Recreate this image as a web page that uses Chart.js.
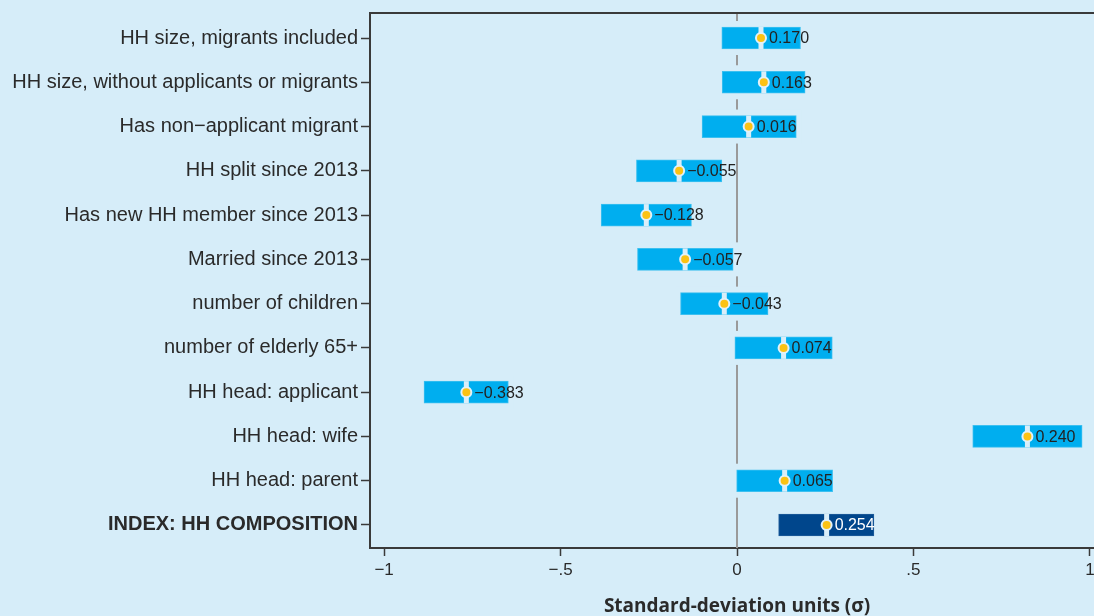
<!DOCTYPE html>
<html>
<head>
<meta charset="utf-8">
<script src="https://cdn.jsdelivr.net/npm/chart.js@4.4.1/dist/chart.umd.min.js"></script>
<style>
  html, body { margin: 0; padding: 0; background: #d6edf9; overflow: hidden; }
  #wrap { width: 1120px; height: 619px; margin-top: -3px; }
  canvas { display: block; }
</style>
</head>
<body>
<div id="wrap"><canvas id="chart" width="1120" height="619"></canvas></div>
<script>
// Household-composition outcomes, effect sizes with confidence intervals
const categories = [
  'HH size, migrants included',
  'HH size, without applicants or migrants',
  'Has non\u2212applicant migrant',
  'HH split since 2013',
  'Has new HH member since 2013',
  'Married since 2013',
  'number of children',
  'number of elderly 65+',
  'HH head: applicant',
  'HH head: wife',
  'HH head: parent',
  'INDEX: HH COMPOSITION'
];
// Confidence interval bounds, in standard-deviation units
const ciLow  = [-0.043, -0.042, -0.099, -0.285, -0.385, -0.282, -0.160, -0.006, -0.887, 0.668, -0.001, 0.118];
const ciHigh = [ 0.180,  0.193,  0.168, -0.043, -0.129, -0.011,  0.088,  0.270, -0.648, 0.978,  0.271, 0.388];
// Point estimates, in standard-deviation units
const effectSD = [0.068, 0.076, 0.033, -0.164, -0.257, -0.147, -0.036, 0.132, -0.767, 0.823, 0.135, 0.254];
// Coefficients printed beside each estimate
const coefficients = [0.170, 0.163, 0.016, -0.055, -0.128, -0.057, -0.043, 0.074, -0.383, 0.240, 0.065, 0.254];
// Horizontal axis ticks
const xTickValues = [-1, -0.5, 0, 0.5, 1];
const xTickLabels = ['\u22121', '\u2212.5', '0', '.5', '1'];

const BG = '#d6edf9';
const BAR = '#00aeef';
const BAR_INDEX = '#00468c';
const INDEX_ROW = categories.length - 1;

const fmt = v => (v < 0 ? '\u2212' : '') + Math.abs(v).toFixed(3);

const rows = categories.map((c, i) => i);

// Background, frame, zero reference line and the clearing band behind each bar
const decorations = {
  id: 'decorations',
  beforeDraw(chart) {
    const { ctx, width, height } = chart;
    ctx.save();
    ctx.fillStyle = BG;
    ctx.fillRect(0, 0, width, height);
    ctx.restore();
  },
  beforeDatasetsDraw(chart) {
    const { ctx, chartArea } = chart;
    const xs = chart.scales.x;
    const x0 = xs.getPixelForValue(0);
    ctx.save();
    ctx.strokeStyle = '#9a9a9a';
    ctx.lineWidth = 2;
    ctx.beginPath();
    ctx.moveTo(x0, chartArea.top);
    ctx.lineTo(x0, chartArea.bottom);
    ctx.stroke();
    // top frame line
    ctx.strokeStyle = '#3a3a3a';
    ctx.beginPath();
    ctx.moveTo(chartArea.left, chartArea.top);
    ctx.lineTo(chartArea.right, chartArea.top);
    ctx.stroke();
    // clear band around each interval bar
    const meta = chart.getDatasetMeta(0);
    ctx.fillStyle = BG;
    meta.data.forEach(bar => {
      const p = bar.getProps(['x', 'base', 'y', 'height'], true);
      const l = Math.min(p.x, p.base) - 5;
      const r = Math.max(p.x, p.base) + 5;
      ctx.fillRect(l, p.y - p.height / 2 - 6, r - l, p.height + 12);
    });
    ctx.restore();
  },
  afterDatasetsDraw(chart) {
    const { ctx } = chart;
    const meta = chart.getDatasetMeta(2);
    ctx.save();
    ctx.font = '16px "Liberation Sans", Arial, sans-serif';
    ctx.textBaseline = 'middle';
    ctx.textAlign = 'left';
    meta.data.forEach((pt, i) => {
      ctx.fillStyle = i === INDEX_ROW ? '#ffffff' : '#222222';
      ctx.fillText(fmt(coefficients[i]), pt.x + 8, pt.y + 1);
    });
    ctx.restore();
  }
};

new Chart(document.getElementById('chart'), {
  type: 'bar',
  data: {
    datasets: [
      {
        label: 'interval',
        data: rows.map(i => ({ y: i, x: [ciLow[i], ciHigh[i]] })),
        backgroundColor: rows.map(i => i === INDEX_ROW ? BAR_INDEX : BAR),
        borderColor: rows.map(i => i === INDEX_ROW ? '#1f5c9a' : '#3cc0f0'),
        borderWidth: 1,
        borderSkipped: false,
        barThickness: 22,
        order: 3
      },
      {
        type: 'scatter',
        label: 'split',
        data: rows.map(i => ({ x: effectSD[i], y: i })),
        pointStyle: 'line',
        rotation: 90,
        pointRadius: 11,
        borderWidth: 5,
        borderColor: '#d9eef9',
        backgroundColor: '#d9eef9',
        order: 2
      },
      {
        type: 'scatter',
        label: 'estimate',
        data: rows.map(i => ({ x: effectSD[i], y: i })),
        pointStyle: 'circle',
        pointRadius: 5,
        borderWidth: 2,
        borderColor: '#e1f1fa',
        backgroundColor: '#fbc214',
        order: 1
      }
    ]
  },
  options: {
    indexAxis: 'y',
    responsive: false,
    animation: false,
    devicePixelRatio: 1,
    layout: { padding: { top: 10, right: 14, left: 0, bottom: 0 } },
    plugins: { legend: { display: false }, tooltip: { enabled: false } },
    scales: {
      x: {
        type: 'linear',
        min: -1.04,
        max: 1.04,
        afterBuildTicks: axis => { axis.ticks = xTickValues.map(v => ({ value: v })); },
        afterFit: axis => { axis.height = 68; axis.paddingLeft = 0; axis.paddingRight = 0; },
        grid: { drawOnChartArea: false, drawTicks: true, tickLength: 8, tickWidth: 1.5, tickColor: '#3a3a3a' },
        border: { display: true, color: '#3a3a3a', width: 2 },
        ticks: {
          color: '#2a2a2a',
          padding: 4,
          maxRotation: 0,
          font: { family: '"Liberation Sans", Arial, sans-serif', size: 17 },
          callback: v => xTickLabels[xTickValues.indexOf(v)]
        },
        title: {
          display: true,
          text: 'Standard-deviation units (\u03c3)',
          color: '#2a2a2a',
          padding: { top: 0, bottom: 0 },
          font: { family: '"Open Sans", Lato, sans-serif', size: 19, weight: 'bold', lineHeight: 1 }
        }
      },
      y: {
        type: 'linear',
        reverse: true,
        offset: false,
        min: -0.565,
        max: 11.52,
        afterBuildTicks: axis => { axis.ticks = rows.map(i => ({ value: i })); },
        afterFit: axis => { axis.width = 370; axis.paddingTop = 0; axis.paddingBottom = 0; },
        grid: { offset: false, drawOnChartArea: false, drawTicks: true, tickLength: 9, tickWidth: 1.5, tickColor: '#3a3a3a' },
        border: { display: true, color: '#3a3a3a', width: 2 },
        ticks: {
          color: '#2a2a2a',
          padding: 3,
          autoSkip: false,
          font: ctx => ({
            family: '"Liberation Sans", Arial, sans-serif',
            size: 20,
            weight: ctx.index === INDEX_ROW ? 'bold' : 'normal'
          }),
          callback: v => categories[v]
        }
      }
    }
  },
  plugins: [decorations]
});
</script>
</body>
</html>
